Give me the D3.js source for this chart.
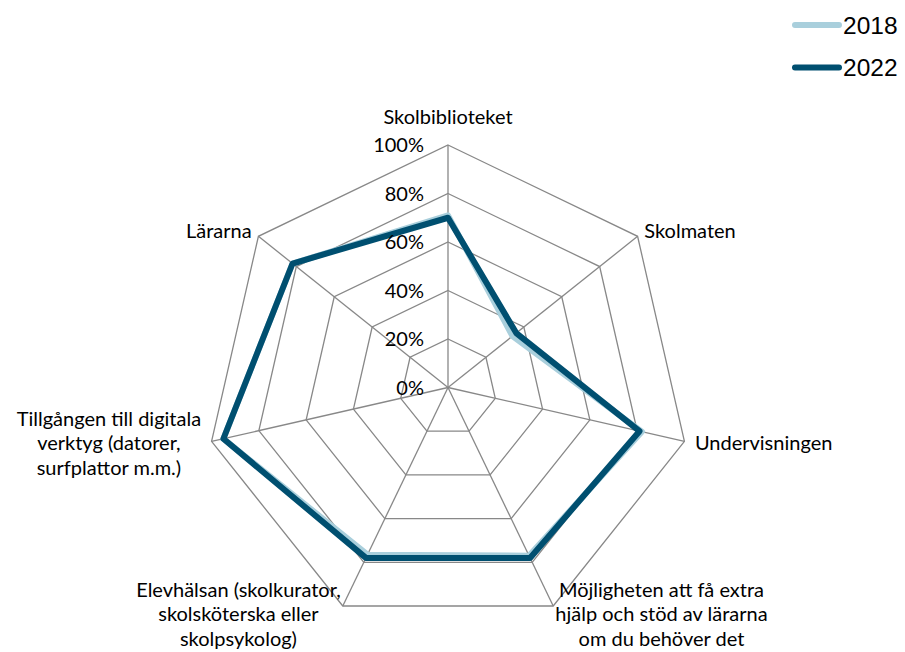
<!DOCTYPE html>
<html><head><meta charset="utf-8">
<script src="https://cdn.jsdelivr.net/npm/d3@7"></script>
<style>
html,body{margin:0;padding:0;background:#fff;}
svg{display:block;}
</style></head>
<body>
<svg id="chart" width="905" height="652"></svg>
<script>
const categories = [
  ["Skolbiblioteket"],
  ["Skolmaten"],
  ["Undervisningen"],
  ["Möjligheten att få extra", "hjälp och stöd av lärarna", "om du behöver det"],
  ["Elevhälsan (skolkurator,", "skolsköterska eller", "skolpsykolog)"],
  ["Tillgången till digitala", "verktyg (datorer,", "surfplattor m.m.)"],
  ["Lärarna"]
];
const seriesNames = ["2018", "2022"];
const values2018 = [0.71, 0.34, 0.82, 0.77, 0.765, 0.95, 0.82];
const values2022 = [0.70, 0.36, 0.81, 0.78, 0.78, 0.95, 0.82];
const tickValues = [0, 0.2, 0.4, 0.6, 0.8, 1.0];
const tickLabels = ["0%", "20%", "40%", "60%", "80%", "100%"];
const colors = ["#a9cfdc", "#004f70"];

const svg = d3.select("#chart");
const cx = 448, cy = 387.5, R = 242.5;
const n = categories.length;
const angle = d3.scaleLinear().domain([0, n]).range([0, 2 * Math.PI]);
const r = d3.scaleLinear().domain([0, 1]).range([0, R]);
const g = svg.append("g").attr("transform", `translate(${cx},${cy})`);
const pt = (i, v) => [Math.sin(angle(i)) * r(v), -Math.cos(angle(i)) * r(v)];

// grid rings
tickValues.filter(t => t > 0).forEach(t => {
  g.append("polygon")
    .attr("points", d3.range(n).map(i => pt(i, t).join(",")).join(" "))
    .attr("fill", "none").attr("stroke", "#888").attr("stroke-width", 1.3);
});
// spokes
d3.range(n).forEach(i => {
  const [x, y] = pt(i, 1);
  g.append("line").attr("x1", 0).attr("y1", 0).attr("x2", x).attr("y2", y)
    .attr("stroke", "#888").attr("stroke-width", 1.3);
});

// series
const lineGen = d3.lineRadial().angle((d, i) => angle(i)).radius(d => r(d)).curve(d3.curveLinearClosed);
[values2018, values2022].forEach((vals, k) => {
  g.append("path").attr("d", lineGen(vals)).attr("fill", "none")
    .attr("stroke", colors[k]).attr("stroke-width", 6).attr("stroke-linejoin", "round");
});

// tick labels
const labelFont = "Lato, 'Open Sans', sans-serif";
const fs = 20;
tickValues.forEach((t, i) => {
  g.append("text").attr("x", -24).attr("y", -r(t)).attr("dy", "0.35em")
    .attr("text-anchor", "end").attr("font-family", labelFont).attr("font-size", fs)
    .attr("fill", "#000").text(tickLabels[i]);
});

// category labels
const lh = 24.5;
categories.forEach((lines, i) => {
  const a = angle(i), s = Math.sin(a), c = Math.cos(a);
  const [vx, vy] = pt(i, 1);
  const tg = g.append("g");
  const texts = lines.map((ln, j) => tg.append("text").attr("font-family", labelFont).attr("font-size", fs)
    .attr("fill", "#000").attr("text-anchor", "middle").attr("y", j * lh).attr("dy", "0.35em").text(ln));
  const w = d3.max(texts, t => t.node().getComputedTextLength());
  const h = (lines.length - 1) * lh;
  let bx, by;
  if (Math.abs(s) < 0.1) { bx = vx; by = vy - 28; }
  else {
    const gap = 11 * s * s;
    bx = s > 0 ? vx + gap + w / 2 : vx - gap - w / 2;
    by = vy - c * 9 - h / 2;
  }
  tg.attr("transform", `translate(${bx},${by})`);
});

// legend
const lg = svg.append("g");
seriesNames.forEach((name, k) => {
  const y = 25 + k * 42.5;
  lg.append("line").attr("x1", 795).attr("x2", 839).attr("y1", y).attr("y2", y)
    .attr("stroke", colors[k]).attr("stroke-width", 6).attr("stroke-linecap", "round");
  lg.append("text").attr("x", 843).attr("y", y).attr("dy", "0.36em")
    .attr("font-family", "'Liberation Sans', Arial, sans-serif").attr("font-size", 24.5)
    .attr("fill", "#000").text(name);
});
</script>
</body></html>
